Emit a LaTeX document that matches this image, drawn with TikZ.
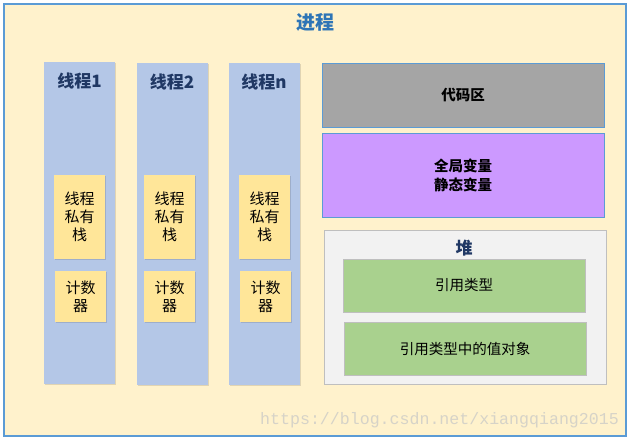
\documentclass[tikz,border=0pt]{standalone}
\usepackage{fontspec}
\setmainfont{Noto Sans CJK SC}
\newfontfamily\wmfont{Liberation Mono}
\usetikzlibrary{shadows}
\definecolor{procfill}{HTML}{FFF2CC}
\definecolor{procline}{HTML}{5B9BD5}
\definecolor{threadfill}{HTML}{B4C7E7}
\definecolor{stackfill}{HTML}{FFE699}
\definecolor{codefill}{HTML}{A5A5A5}
\definecolor{globfill}{HTML}{CC99FF}
\definecolor{heapfill}{HTML}{F2F2F2}
\definecolor{heapline}{HTML}{BFBFBF}
\definecolor{reffill}{HTML}{A9D18E}
\definecolor{titleblue}{HTML}{2E75B6}
\definecolor{darkblue}{HTML}{203864}
\definecolor{wmgray}{HTML}{D6D3C8}
\tikzset{
  box/.style={anchor=north west, inner sep=0pt, outer sep=0pt},
  shad/.style={drop shadow={shadow xshift=1.2pt, shadow yshift=-1.2pt, fill=black, opacity=0.12}},
  threadbox/.style={box, shad, fill=threadfill, minimum width=71pt, minimum height=322pt},
  stackbox/.style={box, shad, fill=stackfill, minimum width=51pt, align=center, font=\fontsize{15}{18}\selectfont},
  areabox/.style={box, draw=procline, line width=0.8pt, minimum width=282pt, align=center, font=\bfseries\fontsize{14.5}{19}\selectfont},
  refbox/.style={box, shad, draw=heapline, line width=0.8pt, fill=reffill, minimum width=242pt, minimum height=53pt, font=\fontsize{14.5}{18}\selectfont},
  ttitle/.style={font=\bfseries\fontsize{17}{19}\selectfont, text=darkblue},
}
\begin{document}
\begin{tikzpicture}[x=1pt,y=-1pt]
\useasboundingbox (0,0) rectangle (631,440);
\node[box, draw=procline, line width=2pt, fill=procfill, minimum width=622pt, minimum height=432pt] (proc) at (3.5,3.5) {};
\node[font=\bfseries\fontsize{19}{22}\selectfont, text=titleblue] (proct) at (315,22) {进程};
% threads
\node[threadbox] (t1) at (44,62) {};
\node[threadbox] (t2) at (137,63) {};
\node[threadbox] (tn) at (229,63) {};
\node[ttitle] (t1t) at (79.5,81) {线程1};
\node[ttitle] (t2t) at (172,82) {线程2};
\node[ttitle] (tnt) at (264,82) {线程n};
\node[stackbox, minimum height=84pt] (s1) at (54,175) {线程\\私有\\栈};
\node[stackbox, minimum height=84pt] (s2) at (144,175) {线程\\私有\\栈};
\node[stackbox, minimum height=84pt] (sn) at (239,175) {线程\\私有\\栈};
\node[stackbox, minimum height=51pt] (c1) at (55,271) {计数\\器};
\node[stackbox, minimum height=51pt] (c2) at (144,271) {计数\\器};
\node[stackbox, minimum height=51pt] (cn) at (240,271) {计数\\器};
% right areas
\node[areabox, fill=codefill, minimum height=64pt] (code) at (322,63) {代码区};
\node[areabox, fill=globfill, minimum height=84pt] (glob) at (322,133) {全局变量\\静态变量};
\node[box, shad, draw=heapline, line width=0.8pt, fill=heapfill, minimum width=282pt, minimum height=154pt] (heap) at (324,230) {};
\node[font=\bfseries\fontsize{17}{19}\selectfont, text=darkblue] (heapt) at (464,248) {堆};
\node[refbox] (ref) at (343,259) {引用类型};
\node[refbox] (val) at (344,322) {引用类型中的值对象};
\node[font=\wmfont\fontsize{16.6}{18}\selectfont, text=wmgray, anchor=west, inner sep=0pt] (wm) at (260,420) {https://blog.csdn.net/xiangqiang2015};
\end{tikzpicture}
\end{document}
